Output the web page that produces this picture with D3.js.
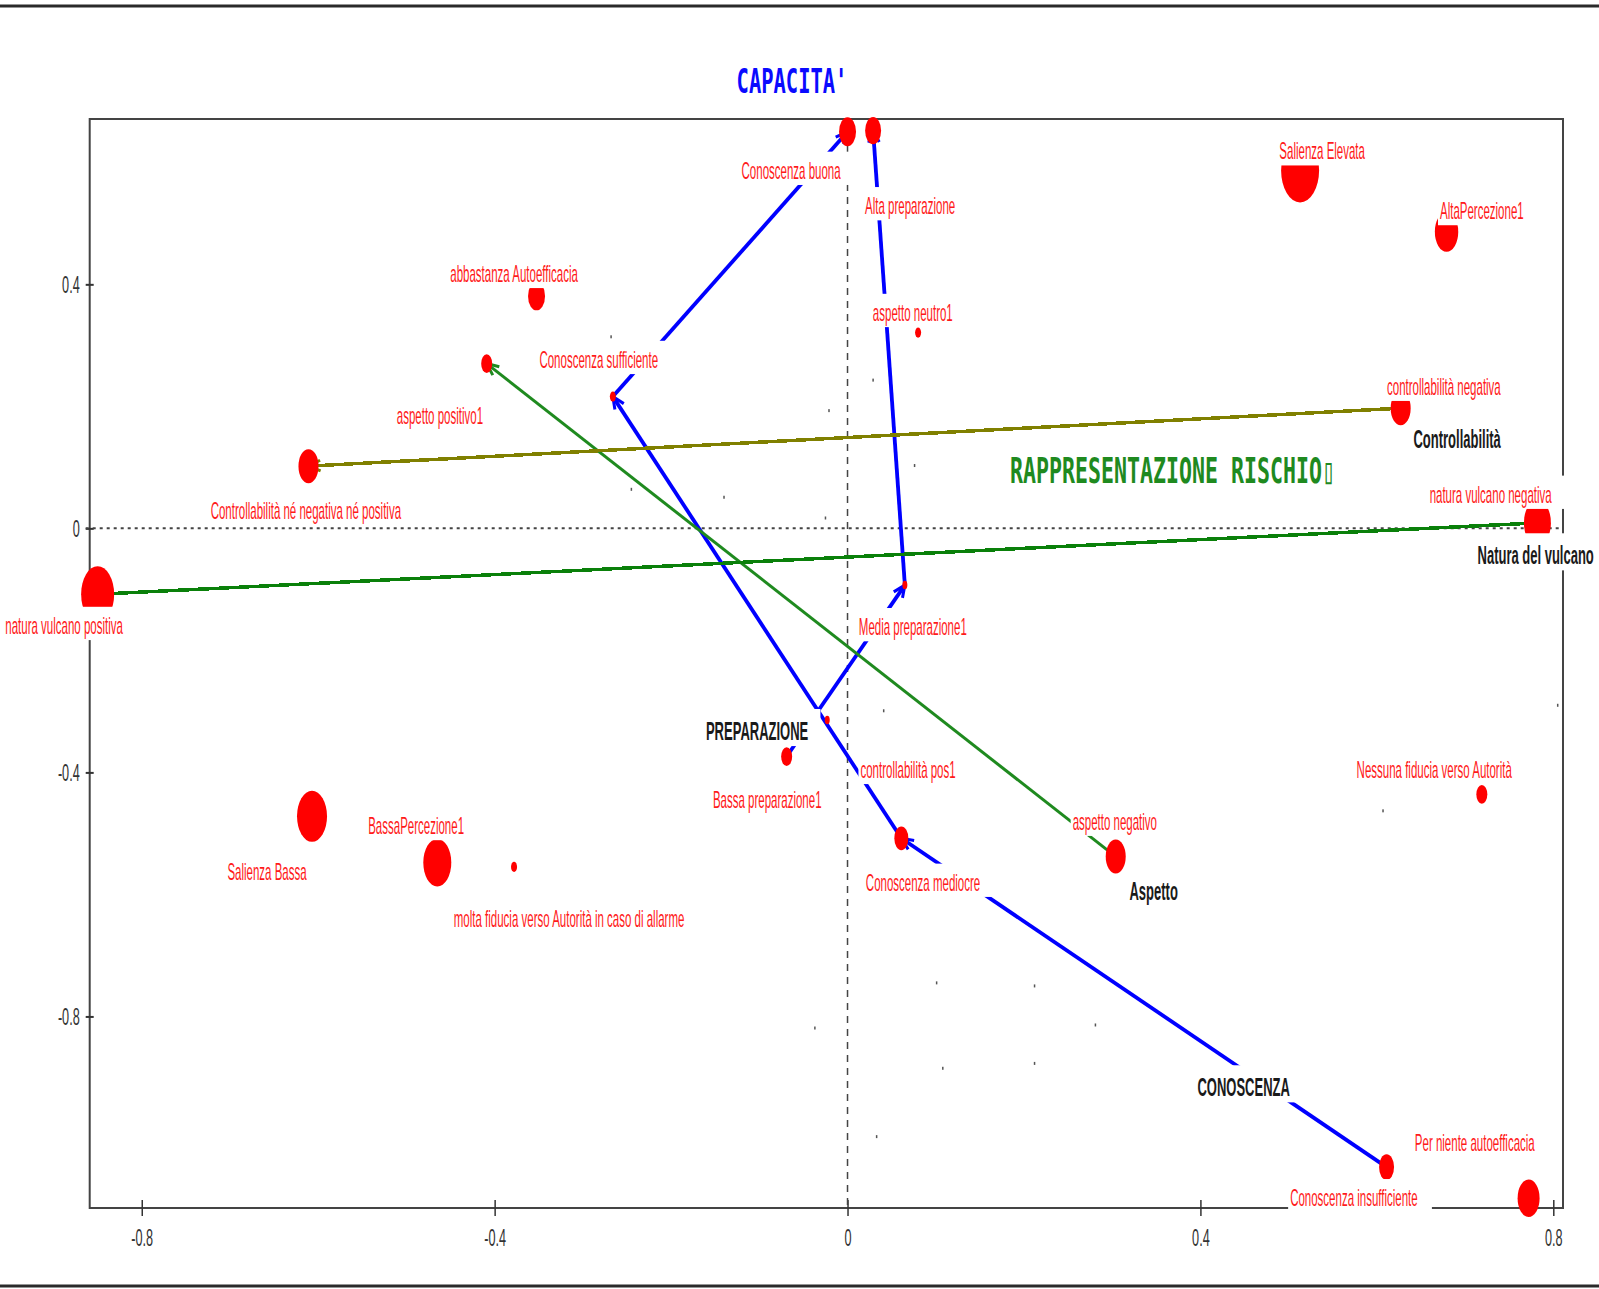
<!DOCTYPE html>
<html>
<head>
<meta charset="utf-8">
<script src="https://cdn.jsdelivr.net/npm/d3@7"></script>
<style>
  body { margin: 0; background: #fff; }
  text { font-family: "Liberation Sans", Arial, sans-serif; }
</style>
</head>
<body>
<svg id="chart" width="1599" height="1289"></svg>
<script>
// modalità e coordinate sul piano fattoriale (dim1, dim2)
const categories = [
  "Conoscenza buona", "Alta preparazione", "aspetto neutro1", "Conoscenza sufficiente",
  "abbastanza Autoefficacia", "aspetto positivo1", "Controllabilità né negativa né positiva",
  "natura vulcano positiva", "Salienza Bassa", "BassaPercezione1",
  "molta fiducia verso Autorità in caso di allarme", "Media preparazione1", "controllabilità pos1",
  "Bassa preparazione1", "Conoscenza mediocre", "aspetto negativo", "Nessuna fiducia verso Autorità",
  "Salienza Elevata", "AltaPercezione1", "controllabilità negativa", "natura vulcano negativa",
  "Conoscenza insufficiente", "Per niente autoefficacia"
];
const dim1 = [0.000, 0.029, 0.080, -0.266, -0.3525, -0.409, -0.611, -0.850, -0.607, -0.465,
  -0.378, 0.065, -0.023, -0.069, 0.061, 0.304, 0.719, 0.513, 0.679, 0.627, 0.782, 0.611, 0.772];
const dim2 = [0.650, 0.652, 0.321, 0.216, 0.381, 0.270, 0.102, -0.108, -0.472, -0.548,
  -0.555, -0.093, -0.314, -0.374, -0.508, -0.538, -0.436, 0.587, 0.486, 0.197, 0.009, -1.047, -1.098];
// peso (massa) della modalità
const mass = [8.5, 8, 3, 3, 8.5, 5.5, 10, 16.5, 15, 14, 3, 2.5, 2.5, 5.5, 7, 10, 5.5, 19, 11.7, 10, 13.5, 7.5, 11];
// posizione delle etichette (unità del grafico)
const labelDim1 = [-0.064, 0.071, 0.074, -0.282, -0.378, -0.462, -0.614, -0.888, -0.658, -0.489,
  -0.3156, 0.074, 0.0686, -0.091, 0.0856, 0.303, 0.665, 0.538, 0.719, 0.676, 0.729, 0.574, 0.711];
const labelDim2 = [0.586, 0.528, 0.353, 0.276, 0.417, 0.184, 0.028, -0.160, -0.563, -0.488,
  -0.640, -0.162, -0.396, -0.445, -0.581, -0.481, -0.396, 0.618, 0.520, 0.232, 0.055, -1.098, -1.008];

// traiettorie delle variabili
const pathConoscenza = ["Conoscenza insufficiente", "Conoscenza mediocre", "Conoscenza sufficiente", "Conoscenza buona"];
const pathPreparazione = ["Bassa preparazione1", "Media preparazione1", "Alta preparazione"];
const pathAspetto = ["aspetto negativo", "aspetto positivo1"];
const pathControllabilita = ["controllabilità negativa", "Controllabilità né negativa né positiva"];
const pathNatura = ["natura vulcano negativa", "natura vulcano positiva"];

// nomi delle variabili
const groupNames = ["CONOSCENZA", "PREPARAZIONE", "Aspetto", "Controllabilità", "Natura del vulcano"];
const groupDim1 = [0.449, -0.1025, 0.347, 0.691, 0.780];
const groupDim2 = [-0.916, -0.332, -0.595, 0.146, -0.044];

// individui (punti minuscoli)
const obsDim1 = [-0.268, -0.021, 0.029, 0.076, -0.245, -0.140, -0.025, 0.041, 0.607, 0.805,
  0.101, 0.212, -0.037, 0.281, 0.108, 0.212, 0.033];
const obsDim2 = [0.314, 0.193, 0.243, 0.103, 0.064, 0.051, 0.017, -0.299, -0.463, -0.290,
  -0.745, -0.750, -0.819, -0.814, -0.885, -0.877, -0.997];

const xTicks = [-0.8, -0.4, 0, 0.4, 0.8];
const yTicks = [-0.8, -0.4, 0, 0.4];

const svg = d3.select('#chart');
const box = {left: 89.7, right: 1563, top: 119, bottom: 1208};

const x = d3.scaleLinear().domain([-0.859, 0.811]).range([box.left, box.right]);
const y = d3.scaleLinear().domain([-1.114, 0.671]).range([box.bottom, box.top]);
const r = d3.scaleLinear().domain([0, 20]).range([0, 20]);
const ELL = 1.7; // i punti appaiono schiacciati orizzontalmente

const byName = {};
categories.forEach((c, i) => byName[c] = i);

// cornice esterna
svg.append('line').attr('x1', 0).attr('x2', 1599).attr('y1', 6).attr('y2', 6)
  .attr('stroke', '#2a2a2a').attr('stroke-width', 3);
svg.append('line').attr('x1', 0).attr('x2', 1599).attr('y1', 1286).attr('y2', 1286)
  .attr('stroke', '#2a2a2a').attr('stroke-width', 3);

// riquadro
svg.append('rect')
  .attr('x', box.left).attr('y', box.top)
  .attr('width', box.right - box.left).attr('height', box.bottom - box.top)
  .attr('fill', 'none').attr('stroke', '#444').attr('stroke-width', 2);

// assi
const tickFmt = d => String(d);
const xAxis = svg.append('g').attr('transform', `translate(0,${box.bottom})`)
  .call(d3.axisBottom(x).tickValues(xTicks).tickSize(8).tickFormat(tickFmt));
xAxis.select('.domain').remove();
xAxis.selectAll('.tick line').attr('y1', -8).attr('y2', 8).attr('stroke', '#333').attr('stroke-width', 1.5);
xAxis.selectAll('.tick text')
  .attr('y', 38).attr('dy', 0)
  .attr('font-size', 23).attr('fill', '#333')
  .attr('transform', 'scale(0.55,1)');

const yAxis = svg.append('g').attr('transform', `translate(${box.left},0)`)
  .call(d3.axisLeft(y).tickValues(yTicks).tickSize(4).tickFormat(tickFmt));
yAxis.select('.domain').remove();
yAxis.selectAll('.tick line').attr('x1', -4).attr('x2', 4).attr('stroke', '#333').attr('stroke-width', 2);
yAxis.selectAll('.tick text')
  .attr('x', -10 / 0.55).attr('dy', '0.35em')
  .attr('font-size', 23).attr('fill', '#333')
  .attr('transform', 'scale(0.55,1)');

// linee di riferimento
svg.append('line')
  .attr('x1', x(0)).attr('x2', x(0)).attr('y1', box.top).attr('y2', box.bottom)
  .attr('stroke', '#444').attr('stroke-width', 1.5).attr('stroke-dasharray', '7,6');
svg.append('line')
  .attr('x1', box.left - 4).attr('x2', box.right).attr('y1', y(0)).attr('y2', y(0))
  .attr('stroke', '#444').attr('stroke-width', 2).attr('stroke-dasharray', '3,4');

// individui
svg.append('g').selectAll('rect')
  .data(obsDim1.map((d, i) => ({x: d, y: obsDim2[i]})))
  .enter().append('rect')
  .attr('x', d => x(d.x) - 0.75).attr('y', d => y(d.y) - 1.5)
  .attr('width', 1.5).attr('height', 3).attr('fill', '#555');

// frecce
const arrows = [
  {path: pathConoscenza, color: '#0000ff', w: 3.8, crisp: false},
  {path: pathPreparazione, color: '#0000ff', w: 3.8, crisp: false},
  {path: pathAspetto, color: '#1f8a1f', w: 3, crisp: false},
  {path: pathControllabilita, color: '#808000', w: 3.5, crisp: true},
  {path: pathNatura, color: '#0a800a', w: 3.5, crisp: true}
];
const arrowLayer = svg.append('g');
arrows.forEach(a => {
  for (let k = 0; k < a.path.length - 1; k++) {
    const i0 = byName[a.path[k]], i1 = byName[a.path[k + 1]];
    const x0 = x(dim1[i0]), y0 = y(dim2[i0]);
    const x1 = x(dim1[i1]), y1 = y(dim2[i1]);
    arrowLayer.append('line')
      .attr('x1', x0).attr('y1', y0).attr('x2', x1).attr('y2', y1)
      .attr('stroke', a.color).attr('stroke-width', a.w)
      .attr('shape-rendering', a.crisp ? 'crispEdges' : 'auto');
    const ang = Math.atan2(y1 - y0, x1 - x0);
    const len = 13, spread = 0.42;
    const p = d3.path();
    p.moveTo(x1 - len * Math.cos(ang - spread), y1 - len * Math.sin(ang - spread));
    p.lineTo(x1, y1);
    p.lineTo(x1 - len * Math.cos(ang + spread), y1 - len * Math.sin(ang + spread));
    arrowLayer.append('path').attr('d', p.toString())
      .attr('fill', 'none').attr('stroke', a.color).attr('stroke-width', 3);
  }
});

// modalità
svg.append('g').selectAll('ellipse')
  .data(categories.map((c, i) => ({x: dim1[i], y: dim2[i], m: mass[i]})))
  .enter().append('ellipse')
  .attr('cx', d => x(d.x)).attr('cy', d => y(d.y))
  .attr('rx', d => r(d.m)).attr('ry', d => r(d.m) * ELL)
  .attr('fill', '#ff0000');

// etichette con sfondo bianco
function addLabel(layer, px, py, txt, o) {
  const g = layer.append('g').attr('transform', `translate(${px},${py})`);
  const bg = g.append('rect').attr('fill', '#fff');
  const t = g.append('text')
    .attr('text-anchor', o.anchor || 'middle')
    .attr('dy', '0.35em')
    .attr('transform', `scale(${o.sx},1)`)
    .attr('font-size', o.size)
    .attr('font-weight', o.weight || 'normal')
    .attr('fill', o.color)
    .text(txt);
  if (o.family) t.style('font-family', o.family);
  const b = t.node().getBBox();
  if (o.bg) {
    bg.attr('x', b.x * o.sx - 2).attr('y', b.y - 7)
      .attr('width', b.width * o.sx * 1.08 + 6).attr('height', b.height + 8);
  } else {
    bg.remove();
  }
}

const labelLayer = svg.append('g');
categories.forEach((c, i) => {
  addLabel(labelLayer, x(labelDim1[i]), y(labelDim2[i]), c,
    {sx: 0.5, size: 23, color: '#ff1a1a', bg: true});
});
groupNames.forEach((g, i) => {
  addLabel(labelLayer, x(groupDim1[i]), y(groupDim2[i]), g,
    {sx: 0.5, size: 26, weight: 'bold', color: '#1a1a1a', bg: true});
});

// titoli
addLabel(svg, 792, 81.5, "CAPACITA'",
  {sx: 0.62, size: 33, weight: 'bold', family: '"DejaVu Sans Mono", monospace', color: '#0a0aff', bg: false});
addLabel(svg, 1010, 470, "RAPPRESENTAZIONE RISCHIO\u25AF",
  {anchor: 'start', sx: 0.6, size: 36, weight: 'bold', family: '"DejaVu Sans Mono", monospace', color: '#1f8a1f', bg: false});
</script>
</body>
</html>
